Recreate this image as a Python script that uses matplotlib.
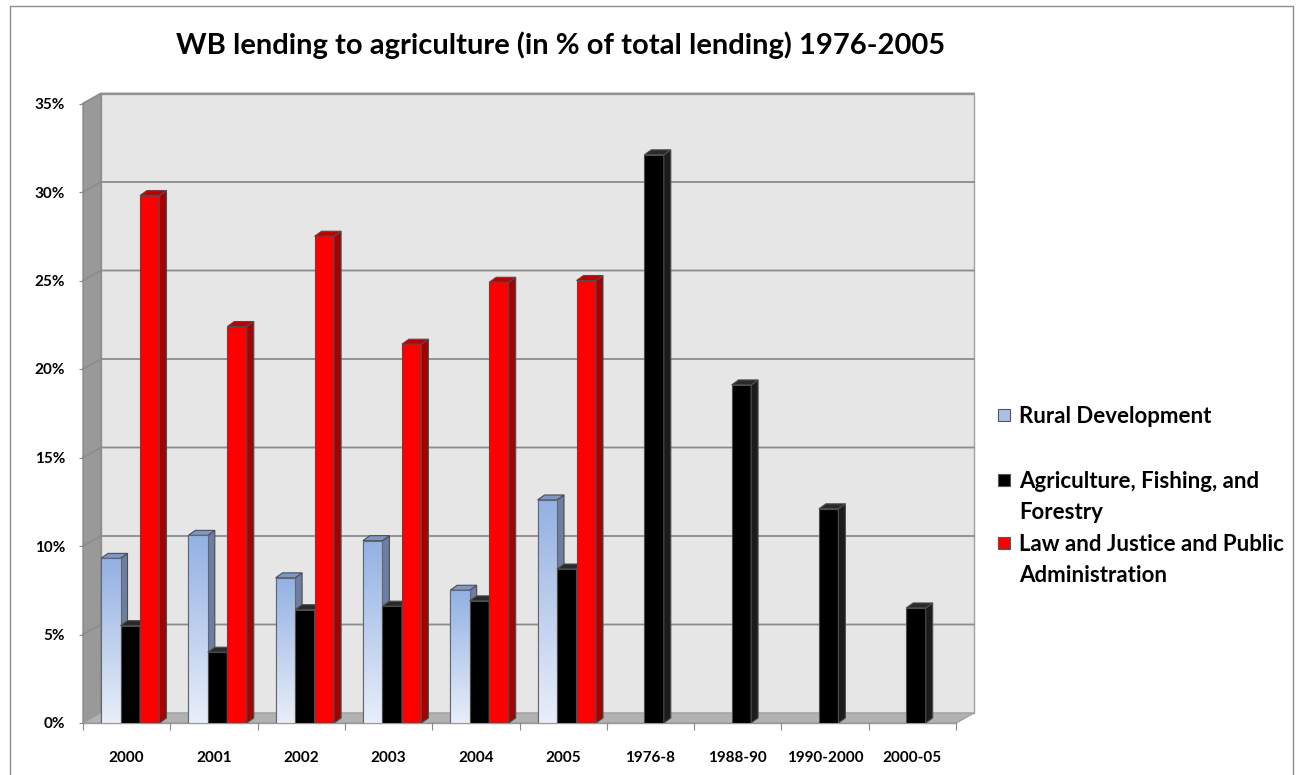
import numpy as np
import matplotlib
matplotlib.use("Agg")
import matplotlib.pyplot as plt
from matplotlib.patches import Polygon, Rectangle
from matplotlib.colors import LinearSegmentedColormap

# datos (en %)
categorias = ["2000", "2001", "2002", "2003", "2004", "2005",
              "1976-8", "1988-90", "1990-2000", "2000-05"]
rural = [9.3, 10.6, 8.2, 10.3, 7.5, 12.6, np.nan, np.nan, np.nan, np.nan]
agricultura = [5.5, 4.0, 6.4, 6.6, 6.9, 8.7, 32.1, 19.1, 12.1, 6.5]
ley_justicia = [29.8, 22.4, 27.5, 21.4, 24.9, 25.0, np.nan, np.nan, np.nan, np.nan]
nombres = ["Rural Development", "Agriculture, Fishing, and\nForestry",
           "Law and Justice and Public\nAdministration"]
yticks = [0, 5, 10, 15, 20, 25, 30, 35]

plt.rcParams['font.family'] = ['Lato', 'DejaVu Sans']

W, H = 1307, 775
fig = plt.figure(figsize=(W / 100, H / 100), dpi=100)

# ejes: x 0..10 -> px 83..956, y 0..35 -> px 723..103
x0, x1, y0, y1 = 83, 956, 723, 103.5
ax = fig.add_axes([x0 / W, (H - y0) / H, (x1 - x0) / W, (y0 - y1) / H])
ax.set_xlim(0, 10)
ax.set_ylim(0, 35)
for s in ax.spines.values():
    s.set_visible(False)
ax.patch.set_alpha(0)

px_x = 10 / (x1 - x0)
px_y = 35 / (y0 - y1)
DX, DY = 18 * px_x, 10 * px_y      # profundidad del fondo
bx, by = 7 * px_x, 5 * px_y        # profundidad de las barras

# paredes y suelo
ax.add_patch(Polygon([(DX, DY), (10 + DX, DY), (10 + DX, 35 + DY), (DX, 35 + DY)],
                     closed=True, facecolor='#e6e6e6', edgecolor='#a0a0a0', lw=1,
                     clip_on=False, zorder=0))
ax.add_patch(Polygon([(0, 0), (DX, DY), (DX, 35 + DY), (0, 35)], closed=True,
                     facecolor='#999999', edgecolor='#8a8a8a', lw=1,
                     clip_on=False, zorder=0.5))
ax.add_patch(Polygon([(0, 0), (10, 0), (10 + DX, DY), (DX, DY)], closed=True,
                     facecolor='#b2b2b2', edgecolor='#a0a0a0', lw=1,
                     clip_on=False, zorder=0.5))
for v in yticks[1:]:
    ax.plot([0, DX, 10 + DX], [v, v + DY, v + DY], color='#8c8c8c', lw=1.3,
            clip_on=False, zorder=0.6)

# barras
ancho = 19.5 * px_x
inicio = 18 * px_x
x = np.arange(len(categorias))
rural_cmap = LinearSegmentedColormap.from_list('rural', ['#e8eef9', '#93b1e3'])
series = [
    (rural, '#93b1e3', '#6a7ea6', '#7f97c4'),
    (agricultura, '#000000', '#1c1c1c', '#2a2a2a'),
    (ley_justicia, '#ff0000', '#a80000', '#c00000'),
]
for k, (vals, frente, lado, arriba) in enumerate(series):
    izq = x + inicio + k * ancho
    z = 2 + k
    barras = ax.bar(izq, vals, width=ancho, align='edge', color=frente,
                    edgecolor='#4d4d4d', linewidth=0.8, zorder=z)
    for b, v in zip(barras, vals):
        if np.isnan(v):
            continue
        xl = b.get_x()
        xr = xl + ancho
        ax.add_patch(Polygon([(xr, 0), (xr + bx, by), (xr + bx, v + by), (xr, v)],
                             closed=True, facecolor=lado, edgecolor='#4d4d4d',
                             lw=0.8, zorder=z))
        ax.add_patch(Polygon([(xl, v), (xr, v), (xr + bx, v + by), (xl + bx, v + by)],
                             closed=True, facecolor=arriba, edgecolor='#4d4d4d',
                             lw=0.8, zorder=z))
        if k == 0:
            grad = np.linspace(0, 1, 100).reshape(-1, 1)
            im = ax.imshow(grad, cmap=rural_cmap, origin='lower', aspect='auto',
                           extent=[xl, xr, 0, v], zorder=z + 0.1)
            im.set_clip_path(b)
            ax.add_patch(Rectangle((xl, 0), ancho, v, fill=False,
                                   edgecolor='#666666', lw=0.8, zorder=z + 0.2))
ax.set_xlim(0, 10)
ax.set_ylim(0, 35)

# linea frontal del suelo
ax.plot([0, 10], [0, 0], color='#999999', lw=1, clip_on=False, zorder=1)

# ejes y etiquetas
ax.set_yticks(yticks)
ax.set_yticklabels([f"{v}%" for v in yticks], fontsize=11, fontweight='bold')
ax.tick_params(axis='y', length=3, width=0.8, color='#888888', pad=10)
ax.set_xticks(x + 0.5)
ax.set_xticklabels(categorias, fontsize=11, fontweight='bold')
ax.set_xticks(np.arange(11), minor=True)
ax.tick_params(axis='x', which='major', length=0, pad=20)
ax.tick_params(axis='x', which='minor', length=5, width=0.8, color='#888888')

fig.text(561 / W, 1 - 45 / H, "WB lending to agriculture (in % of total lending) 1976-2005",
         ha='center', va='center', fontsize=21, fontweight='bold')

# leyenda
caras = [('#a9c0e8', '#555555'), ('#000000', '#555555'), ('#ff0000', '#555555')]
ys = [415, 480, 543]
for (fc, ec), nombre, yy in zip(caras, nombres, ys):
    fig.patches.append(Rectangle((998 / W, 1 - (yy + 6) / H), 12 / W, 12 / H,
                                 transform=fig.transFigure, facecolor=fc,
                                 edgecolor=ec, lw=0.8))
    fig.text(1019 / W, 1 - (yy - 9) / H, nombre, ha='left', va='top',
             fontsize=16, fontweight='bold', linespacing=1.6)

# borde exterior
fig.add_artist(plt.Line2D([10 / W, 10 / W, 1293 / W, 1293 / W],
                          [0, 1 - 6 / H, 1 - 6 / H, 0], transform=fig.transFigure,
                          color='#8c8c8c', lw=1))

fig.savefig("out.png", dpi=100)
